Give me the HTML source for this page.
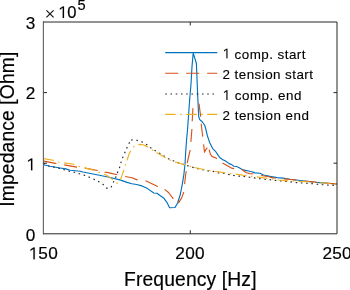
<!DOCTYPE html>
<html><head><meta charset="utf-8"><style>html,body{margin:0;padding:0;background:#fff;width:350px;height:290px;overflow:hidden}</style></head>
<body><svg width="350" height="290" viewBox="0 0 350 290" style="display:block;will-change:transform"><rect width="350" height="290" fill="#fff"/><clipPath id="c"><rect x="43.5" y="22.0" width="293.5" height="211.8"/></clipPath><g clip-path="url(#c)" fill="none" stroke-linejoin="round"><polyline points="43.5,164.7 50.0,166.3 60.0,168.0 66.0,168.9 70.0,170.3 73.0,170.5 80.0,171.3 83.0,172.0 108.0,177.0 120.0,179.9 127.0,182.4 132.0,183.7 136.6,184.5 142.0,185.9 147.6,188.6 153.8,193.0 157.0,193.2 160.0,195.5 164.0,198.3 167.0,202.6 169.6,207.8 175.0,207.5 177.6,203.0 180.3,194.5 182.1,185.3 183.9,174.3 185.0,164.0 185.8,150.5 186.6,139.5 187.5,130.0 188.5,116.0 189.6,100.5 191.0,84.0 192.0,66.6 193.2,53.0 194.7,57.9 196.4,63.5 197.8,98.0 198.7,116.5 199.8,119.6 202.4,122.0 204.8,125.5 206.0,129.9 207.3,135.5 209.6,142.4 212.7,148.6 215.8,151.7 218.2,155.4 220.3,158.1 222.5,159.6 224.7,160.5 226.9,161.9 229.0,163.6 231.2,164.4 233.9,166.3 236.6,166.5 238.8,167.6 242.1,169.5 245.3,170.4 248.6,171.0 251.8,171.7 255.0,172.9 260.0,173.3 263.6,175.0 270.0,176.4 277.1,177.6 282.9,178.1 290.0,179.3 302.3,180.7 316.6,182.4 337.0,184.0" stroke="#0072BD" stroke-width="1.15"/><path d="M43.60,161.10 L55.60,163.40 L56.37,163.54M64.25,164.93 L76.70,167.10 L77.06,167.14M84.99,168.18 L96.60,170.30 L97.77,170.56M104.61,172.06 L104.80,172.10 L108.00,172.60 L117.32,174.76M125.13,176.50 L132.00,177.70 L137.20,179.90 L137.57,179.95M145.51,180.92 L146.20,181.00M146.20,181.00 L157.20,186.30 L157.93,186.60M164.70,189.40 L168.50,192.50 L173.20,198.70 L173.44,198.90M177.57,202.06 L178.60,202.60 L181.70,197.90 L183.80,192.06M184.62,184.12 L184.70,183.20 L185.60,175.00 L186.25,171.22M187.27,163.30 L187.35,162.50M187.35,162.50 L187.40,162.00 L189.00,155.00 L190.21,149.83M190.89,141.87 L190.90,141.70 L191.90,129.30 L191.91,128.91M192.20,121.20 L192.90,108.60 L193.10,108.27M198.41,103.66 L199.10,103.70M199.10,103.70 L199.80,109.90 L200.50,114.80 L200.64,116.61M201.20,123.70 L202.60,135.80 L202.69,136.61M203.60,144.40 L204.50,152.20 L205.80,149.60 L207.20,148.00 L207.29,148.07M209.10,149.60 L210.40,154.20 L212.00,156.40 L216.30,158.20 L216.96,158.71M222.50,163.00 L231.40,168.10 L234.09,168.63M241.41,169.71 L242.10,169.80 L246.40,172.80 L250.00,173.60 L253.37,173.77M261.21,175.34 L262.90,175.70M262.90,175.70 L268.60,176.70 L272.90,177.90 L275.64,178.13M283.61,178.81 L288.60,179.30 L296.54,180.11M304.50,180.96 L316.60,182.40 L317.41,182.46M325.39,183.09 L337.00,184.00" stroke="#D95319" stroke-width="1.15"/><path d="M43.50,163.20 L44.91,163.96M48.12,165.69 L48.70,166.00 L49.62,166.20M53.19,166.95 L53.90,167.10 L54.76,167.30M58.31,168.14 L59.00,168.30 L59.86,168.54M63.38,169.50 L64.10,169.70 L64.92,169.94M68.42,170.95 L69.30,171.20 L69.97,171.35M73.54,172.11 L74.40,172.30 L75.09,172.50M78.60,173.50 L79.30,173.70 L80.14,173.96M83.62,175.04 L84.80,175.40 L85.14,175.53M88.54,176.86 L89.40,177.20 L90.02,177.48M93.35,178.97 L94.10,179.30 L94.80,179.65M98.06,181.28 L98.90,181.70 L99.45,182.07M102.48,184.11 L103.20,184.60 L103.72,185.12M106.30,187.70 L106.90,188.30 L107.64,188.17M111.09,187.38 L111.74,185.92M113.21,182.58 L113.94,181.15M115.60,177.90 L115.60,177.90 L116.10,176.39M117.28,172.93 L117.96,171.48M119.42,168.15 L119.84,166.60M120.81,163.08 L121.31,161.56M122.48,158.11 L123.11,156.64M124.55,153.28 L125.19,151.82M126.65,148.47 L127.27,146.99M128.72,143.65 L129.74,142.42M131.33,140.47 L131.80,139.90 L132.66,139.97M136.30,140.25 L136.90,140.30 L137.85,140.61M141.31,141.74 L142.40,142.10 L142.80,142.33M145.97,144.14 L146.60,144.50 L147.27,145.05M150.09,147.37 L150.50,147.70 L151.42,148.26M154.53,150.17 L154.90,150.40 L155.89,151.00M159.01,152.90 L159.50,153.20 L160.37,153.74M163.48,155.66 L164.84,156.50M167.95,158.42 L168.40,158.70 L169.38,159.12M172.73,160.56 L173.30,160.80 L174.22,161.15M177.64,162.43 L178.10,162.60 L179.15,162.96M182.61,164.13 L184.12,164.64M187.13,165.58 L188.66,166.05M192.15,167.13 L192.70,167.30 L193.68,167.58M197.19,168.59 L197.90,168.80 L198.74,168.97M202.32,169.67 L203.00,169.80 L203.89,170.00M207.45,170.80 L207.90,170.90 L209.03,171.01M212.67,171.34 L213.30,171.40 L214.23,171.67M217.73,172.68 L218.50,172.90 L219.30,172.96M222.94,173.25 L223.60,173.30 L224.52,173.51M228.08,174.30 L228.50,174.40 L229.64,174.63M233.22,175.36 L233.90,175.50 L234.80,175.61M238.42,176.05 L238.80,176.10 L240.02,176.19M243.50,176.45 L244.20,176.50 L245.09,176.62M248.70,177.12 L249.30,177.20 L250.29,177.34M253.90,177.84 L254.30,177.90 L255.49,178.07M259.10,178.57 L260.00,178.70 L260.69,178.78M264.31,179.22 L265.00,179.30 L265.90,179.37M269.54,179.66 L270.00,179.70 L271.13,179.85M274.75,180.32 L275.40,180.40 L276.34,180.49M279.97,180.83 L280.70,180.90 L281.57,180.99M285.20,181.35 L285.70,181.40 L286.79,181.50M290.42,181.85 L290.90,181.90 L292.01,182.04M295.64,182.48 L296.60,182.60 L297.23,182.65M300.87,182.94 L301.60,183.00 L302.46,183.05M306.11,183.27 L306.60,183.30 L307.70,183.37M311.35,183.58 L311.60,183.60 L312.94,183.76M316.56,184.21 L317.30,184.30 L318.15,184.37M321.79,184.66 L322.30,184.70 L323.39,184.77M327.03,184.98 L327.30,185.00 L328.63,185.07M332.27,185.26 L333.00,185.30 L333.87,185.34" stroke="#262626" stroke-width="1.15"/><path d="M43.60,158.60 L53.30,160.20 L53.93,160.42M58.17,161.92 L58.40,162.00 L59.65,162.20M64.09,162.90 L64.10,162.90M64.10,162.90 L73.90,164.30 L74.46,164.52M78.66,166.14 L79.60,166.50 L80.07,166.63M84.09,167.72 L93.60,170.10 L94.25,170.36M98.42,172.05 L99.30,172.40 L99.83,172.57M104.10,173.97 L104.11,173.97M104.11,173.97 L104.80,174.20 L108.00,176.30 L112.10,179.10 L112.84,179.74M116.26,182.67 L116.30,182.70 L117.50,183.30 L117.57,183.22M120.40,179.80 L122.00,175.40 L123.50,171.30 L123.84,169.89M125.08,165.57 L125.58,164.15M126.94,160.42 L127.20,159.70 L129.30,153.40 L130.71,150.65M133.40,147.08 L134.10,146.30 L134.52,146.14M138.34,144.66 L139.00,144.40 L143.10,144.80 L147.20,146.60 L148.18,147.28M151.86,149.86 L152.20,150.10 L153.15,150.63M156.50,152.50 L165.56,157.82M169.57,159.84 L170.50,160.30 L170.93,160.47M175.14,162.08 L175.20,162.10M175.20,162.10 L183.90,164.50 L185.32,164.91M189.64,166.16 L191.08,166.57M194.30,167.50 L204.10,169.50 L204.59,169.58M209.03,170.35 L210.50,170.60 L210.50,170.60M214.90,171.20 L225.26,172.91M229.73,173.42 L231.22,173.58M235.70,174.06 L236.10,174.10M236.10,174.10 L246.40,175.80 L246.46,175.81M250.93,176.28 L252.43,176.44M256.90,176.92 L258.60,177.10 L267.29,178.40M271.75,179.04 L273.23,179.25M277.69,179.87 L278.60,180.00 L288.15,180.84M292.64,181.11 L294.13,181.17M298.63,181.35 L302.30,181.50 L309.11,182.02M313.59,182.37 L315.09,182.48M319.58,182.80 L330.05,183.52M334.54,183.83 L336.04,183.93" stroke="#EDB120" stroke-width="1.15"/></g><line x1="165.2" y1="52.6" x2="217.3" y2="52.6" stroke="#0072BD" stroke-width="1.15"/><path d="M165.20,73.20 L178.20,73.20M186.20,73.20 L199.20,73.20M207.20,73.20 L217.30,73.20" stroke="#D95319" stroke-width="1.15" fill="none"/><path d="M165.20,94.00 L166.80,94.00M170.45,94.00 L172.05,94.00M175.70,94.00 L177.30,94.00M180.95,94.00 L182.55,94.00M186.20,94.00 L187.80,94.00M191.45,94.00 L193.05,94.00M196.70,94.00 L198.30,94.00M201.95,94.00 L203.55,94.00M207.20,94.00 L208.80,94.00M212.45,94.00 L214.05,94.00" stroke="#262626" stroke-width="1.15" fill="none"/><path d="M165.20,114.40 L175.70,114.40M180.20,114.40 L181.70,114.40M186.20,114.40 L196.70,114.40M201.20,114.40 L202.70,114.40M207.20,114.40 L217.30,114.40" stroke="#EDB120" stroke-width="1.15" fill="none"/><path d="M43.0,22.0H337.0V233.8H43.0" fill="none" stroke="#262626" stroke-width="1"/><line x1="43.35" y1="21.5" x2="43.35" y2="234.3" stroke="#4d4d4d" stroke-width="1"/><line x1="190.25" y1="233.8" x2="190.25" y2="230.3" stroke="#262626" stroke-width="1"/><line x1="190.25" y1="22.0" x2="190.25" y2="25.5" stroke="#262626" stroke-width="1"/><line x1="43.5" y1="92.6" x2="47.0" y2="92.6" stroke="#262626" stroke-width="1"/><line x1="337.0" y1="92.6" x2="333.5" y2="92.6" stroke="#262626" stroke-width="1"/><line x1="43.5" y1="163.2" x2="47.0" y2="163.2" stroke="#262626" stroke-width="1"/><line x1="337.0" y1="163.2" x2="333.5" y2="163.2" stroke="#262626" stroke-width="1"/><g style="font-family:'Liberation Sans',sans-serif" fill="#000" font-size="17.2" stroke="#000" stroke-width="0.18"><text x="35.2" y="29.3" text-anchor="end">3</text><text x="35.2" y="99.3" text-anchor="end">2</text><text x="35.2" y="241.2" text-anchor="end">0</text><text x="43.3" y="259.3" text-anchor="middle" letter-spacing="0.3">&#8199;50</text><text x="190.1" y="259.3" text-anchor="middle" letter-spacing="0.3">200</text><text x="337.2" y="259.3" text-anchor="middle" letter-spacing="0.3">250</text><text x="58.0" y="17.9" font-size="16.6" letter-spacing="0.1">&#8199;0</text><text x="77.6" y="10.3" font-size="14.6">5</text></g><path d="M46.4,10.4L53.6,17.4M53.6,10.4L46.4,17.4" stroke="#111" stroke-width="1.15" fill="none"/><path transform="translate(26.10,170.30) scale(0.00840,-0.00840)" d="M585,0V1237L235,1010V1180L595,1409H740V0Z" fill="#000" stroke="#000" stroke-width="21.4"/><path transform="translate(28.51,259.30) scale(0.00840,-0.00840)" d="M585,0V1237L235,1010V1180L595,1409H740V0Z" fill="#000" stroke="#000" stroke-width="21.4"/><path transform="translate(58.00,17.90) scale(0.00811,-0.00811)" d="M585,0V1237L235,1010V1180L595,1409H740V0Z" fill="#000" stroke="#000" stroke-width="22.2"/><path transform="translate(222.40,58.30) scale(0.00684,-0.00684)" d="M585,0V1237L235,1010V1180L595,1409H740V0Z" fill="#000" stroke="#000" stroke-width="17.6"/><path transform="translate(222.40,100.00) scale(0.00684,-0.00684)" d="M585,0V1237L235,1010V1180L595,1409H740V0Z" fill="#000" stroke="#000" stroke-width="17.6"/><text x="190.25" y="286.0" text-anchor="middle" font-size="19.3" style="font-family:'Liberation Sans',sans-serif" stroke="#000" stroke-width="0.18" textLength="132.5" lengthAdjust="spacing">Frequency [Hz]</text><text transform="translate(14.1,129.2) rotate(-90)" x="0" y="0" text-anchor="middle" font-size="19.3" style="font-family:'Liberation Sans',sans-serif" stroke="#000" stroke-width="0.18" textLength="155" lengthAdjust="spacing">Impedance [Ohm]</text><text x="222.5" y="58.6" font-size="13.4" style="font-family:'Liberation Sans',sans-serif" stroke="#000" stroke-width="0.12" textLength="83.0" lengthAdjust="spacing">&#8199; comp. start</text><text x="222.5" y="79.2" font-size="13.4" style="font-family:'Liberation Sans',sans-serif" stroke="#000" stroke-width="0.12" textLength="90.5" lengthAdjust="spacing">2 tension start</text><text x="222.5" y="100.3" font-size="13.4" style="font-family:'Liberation Sans',sans-serif" stroke="#000" stroke-width="0.12" textLength="79.0" lengthAdjust="spacing">&#8199; comp. end</text><text x="222.5" y="120.4" font-size="13.4" style="font-family:'Liberation Sans',sans-serif" stroke="#000" stroke-width="0.12" textLength="86.4" lengthAdjust="spacing">2 tension end</text></svg></body></html>
